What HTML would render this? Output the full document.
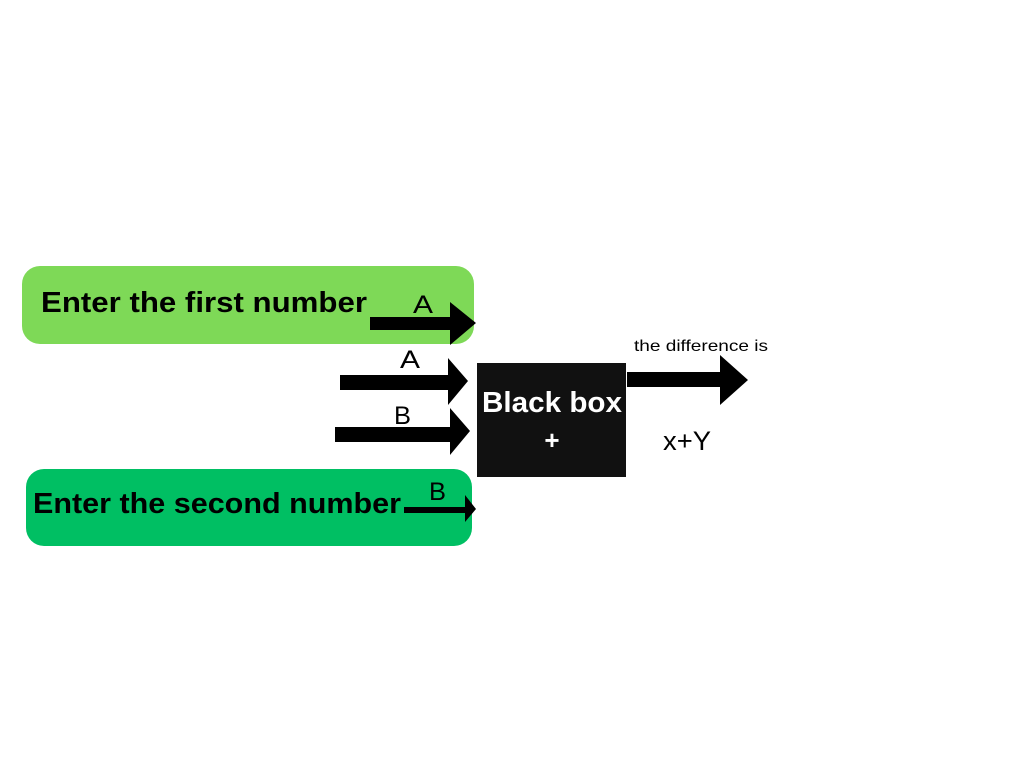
<!DOCTYPE html>
<html><head><meta charset="utf-8"><style>html,body{margin:0;padding:0;background:#fff}svg{display:block}</style></head>
<body>
<svg width="1024" height="768" viewBox="0 0 1024 768" font-family="Liberation Sans, sans-serif">
<rect x="22" y="266" width="452" height="78" rx="18" fill="#7ed957"/>
<rect x="26" y="469" width="446" height="77" rx="18" fill="#00bf63"/>
<text x="41" y="312" font-size="29" font-weight="bold" textLength="326" lengthAdjust="spacingAndGlyphs">Enter the first number</text>
<text x="33" y="513" font-size="29" font-weight="bold" textLength="368" lengthAdjust="spacingAndGlyphs">Enter the second number</text>
<g fill="#000">
<polygon points="370,317 450,317 450,302 476,323 450,345 450,330 370,330"/>
<polygon points="340,375 448,375 448,358 468,381 448,405 448,390 340,390"/>
<polygon points="335,427 450,427 450,408 470,431 450,455 450,442 335,442"/>
<polygon points="404,507 465,507 465,495 476,509 465,522 465,513 404,513"/>
<polygon points="627,372 720,372 720,355 748,380 720,405 720,387 627,387"/>
</g>
<text x="413" y="313" font-size="25" textLength="20" lengthAdjust="spacingAndGlyphs">A</text>
<text x="400" y="368" font-size="25" textLength="20" lengthAdjust="spacingAndGlyphs">A</text>
<text x="394" y="424" font-size="25" textLength="17" lengthAdjust="spacingAndGlyphs">B</text>
<text x="429" y="500" font-size="25" textLength="17" lengthAdjust="spacingAndGlyphs">B</text>
<rect x="477" y="363" width="149" height="114" fill="#111"/>
<text x="552" y="412" font-size="29" font-weight="bold" fill="#fff" text-anchor="middle" textLength="140" lengthAdjust="spacingAndGlyphs">Black box</text>
<text x="552" y="449" font-size="26" font-weight="bold" fill="#fff" text-anchor="middle">+</text>
<text x="634" y="351" font-size="16" textLength="134" lengthAdjust="spacingAndGlyphs">the difference is</text>
<text x="663" y="450" font-size="27" textLength="48" lengthAdjust="spacingAndGlyphs">x+Y</text>
</svg>
</body></html>
